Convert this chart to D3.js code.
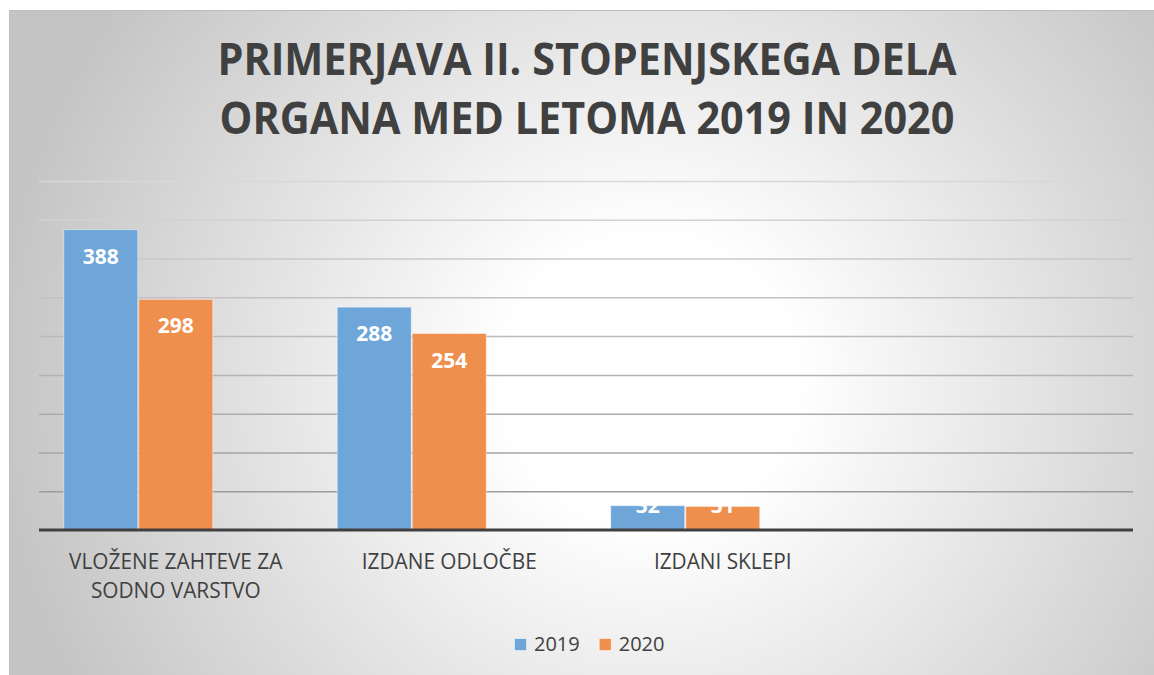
<!DOCTYPE html>
<html>
<head>
<meta charset="utf-8">
<script src="https://cdn.jsdelivr.net/npm/d3@7"></script>
<style>
  html, body { margin: 0; padding: 0; background: #ffffff; }
  svg { display: block; }
</style>
</head>
<body>
<svg id="chart" width="1154" height="675"></svg>
<script>
// ---- data ----
const categories = ["VLOŽENE ZAHTEVE ZA SODNO VARSTVO", "IZDANE ODLOČBE", "IZDANI SKLEPI", ""];
const values2019 = [388, 288, 32, null];
const values2020 = [298, 254, 31, null];
const seriesNames = ["2019", "2020"];
const yTickValues = [0, 50, 100, 150, 200, 250, 300, 350, 400, 450];
const titleLines = ["PRIMERJAVA II. STOPENJSKEGA DELA", "ORGANA MED LETOMA 2019 IN 2020"];

const seriesValues = [values2019, values2020];
const colors = ["#6fa6d9", "#ef8f4e"];

const svg = d3.select("#chart");

// chart area background: soft radial grey-to-white fill
const defs = svg.append("defs");
const grad = defs.append("radialGradient")
  .attr("id", "bg")
  .attr("gradientUnits", "userSpaceOnUse")
  .attr("cx", 650).attr("cy", 380).attr("r", 660)
  .attr("fx", 650).attr("fy", 380)
  .attr("gradientTransform", "translate(650,380) scale(1,0.97) translate(-650,-380)");
grad.append("stop").attr("offset", 0).attr("stop-color", "#ffffff");
grad.append("stop").attr("offset", 0.22).attr("stop-color", "#ffffff");
grad.append("stop").attr("offset", 1).attr("stop-color", "#c4c4c4");

svg.append("rect")
  .attr("x", 9.5).attr("y", 10.5)
  .attr("width", 1170).attr("height", 690)
  .attr("fill", "url(#bg)")
  .attr("stroke", "#bdbdbd").attr("stroke-width", 1);

// squeeze text horizontally to a narrower face
function condense(sel, k) {
  sel.each(function () {
    const w = this.getComputedTextLength();
    d3.select(this).attr("textLength", w * k).attr("lengthAdjust", "spacingAndGlyphs");
  });
}

// ---- title ----
const title = svg.append("g");
title.selectAll("text")
  .data(titleLines)
  .join("text")
  .attr("x", 587)
  .attr("y", (d, i) => 75 + i * 59)
  .attr("text-anchor", "middle")
  .attr("font-family", "Open Sans, sans-serif")
  .attr("font-weight", 700)
  .attr("font-size", 44)
  .attr("fill", "#404040")
  .text(d => d)
  .call(condense, 0.94);

// ---- scales ----
const plot = { left: 39, right: 1133, top: 181, bottom: 530 };
const x0 = d3.scaleBand()
  .domain(categories.map((d, i) => i))
  .range([plot.left, plot.right])
  .padding(0);
// the group reserves room for a third, empty series slot
const slots = seriesNames.concat(["_"]);
const x1 = d3.scaleBand()
  .domain(slots)
  .range([0, x0.bandwidth()])
  .paddingInner(0)
  .paddingOuter(0.323);
const y = d3.scaleLinear()
  .domain([0, 450])
  .range([plot.bottom, plot.top]);

// ---- gridlines ----
const gridShade = d3.scaleLinear().domain([50, 450]).range(["#9c9c9c", "#d8d8d8"]);
const yAxis = d3.axisLeft(y)
  .tickValues(yTickValues.filter(v => v > 0))
  .tickSize(-(plot.right - plot.left))
  .tickFormat("");
const grid = svg.append("g")
  .attr("transform", `translate(${plot.left},0)`)
  .call(yAxis);
grid.select(".domain").remove();
grid.selectAll(".tick line")
  .attr("stroke", d => gridShade(d))
  .attr("stroke-width", 1.5);

// ---- bars ----
const rows = categories.map((c, i) => ({ i, vals: seriesValues.map((s, k) => ({ k, v: s[i] })) }));
const groups = svg.append("g").selectAll("g")
  .data(rows)
  .join("g")
  .attr("transform", d => `translate(${x0(d.i)},0)`);

const barData = d => d.vals.filter(o => o.v != null);
groups.selectAll("rect")
  .data(barData)
  .join("rect")
  .attr("x", o => x1(seriesNames[o.k]) + 0.5)
  .attr("y", o => y(o.v) + 0.5)
  .attr("width", x1.bandwidth() - 1)
  .attr("height", o => y(0) - y(o.v) - 0.5)
  .attr("fill", o => colors[o.k])
  .attr("stroke", "rgba(255,255,255,0.45)")
  .attr("stroke-width", 1);

// ---- data labels (inside end, white bold) ----
groups.selectAll("text")
  .data(barData)
  .join("text")
  .attr("x", o => x1(seriesNames[o.k]) + x1.bandwidth() / 2)
  .attr("y", o => Math.min(y(o.v) + 27, y(0) - 25) + 7.5)
  .attr("text-anchor", "middle")
  .attr("font-family", "Open Sans, sans-serif")
  .attr("font-weight", 700)
  .attr("font-size", 21)
  .attr("fill", "#ffffff")
  .text(o => o.v);

// ---- category axis ----
svg.append("line")
  .attr("x1", plot.left).attr("x2", plot.right)
  .attr("y1", y(0)).attr("y2", y(0))
  .attr("stroke", "#404040").attr("stroke-width", 3);

function wrapWords(str, maxChars) {
  const words = str.split(" ");
  const lines = [];
  let cur = "";
  words.forEach(w => {
    const t = cur ? cur + " " + w : w;
    if (t.length > maxChars && cur) { lines.push(cur); cur = w; } else cur = t;
  });
  if (cur) lines.push(cur);
  return lines;
}

const catLabels = svg.append("g").selectAll("text")
  .data(categories.map((c, i) => ({ i, lines: wrapWords(c, 20) })))
  .join("text")
  .attr("text-anchor", "middle")
  .attr("font-family", "Open Sans, sans-serif")
  .attr("font-size", 21)
  .attr("fill", "#404040");
catLabels.selectAll("tspan")
  .data(d => d.lines.map(l => ({ l, i: d.i })))
  .join("tspan")
  .attr("x", d => x0(d.i) + x0.bandwidth() / 2)
  .attr("y", (d, j) => y(0) + 39 + j * 29)
  .text(d => d.l)
  .call(condense, 0.99);

// ---- legend ----
const legend = svg.append("g").attr("transform", "translate(514,638)");
let lx = 0;
seriesNames.forEach((name, k) => {
  const g = legend.append("g").attr("transform", `translate(${lx},0)`);
  g.append("rect")
    .attr("x", 0.5).attr("y", 0.5)
    .attr("width", 12).attr("height", 12)
    .attr("fill", colors[k])
    .attr("stroke", "rgba(255,255,255,0.5)");
  const t = g.append("text")
    .attr("x", 20).attr("y", 13)
    .attr("font-family", "Open Sans, sans-serif")
    .attr("font-size", 20)
    .attr("fill", "#404040")
    .text(name);
  lx += 20 + t.node().getComputedTextLength() + 19;
});
</script>
</body>
</html>
